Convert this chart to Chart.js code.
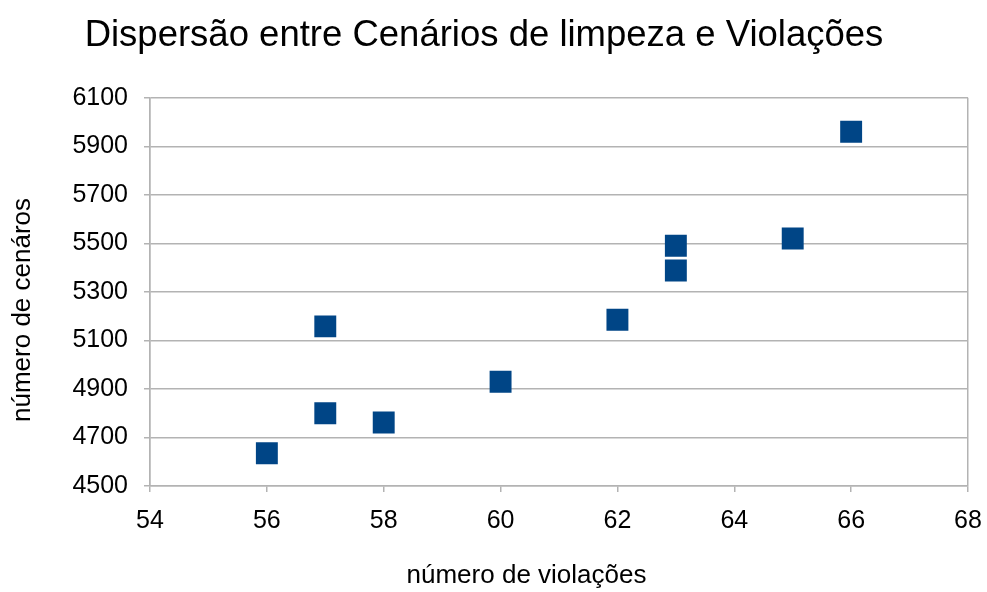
<!DOCTYPE html>
<html>
<head>
<meta charset="utf-8">
<script src="https://cdn.jsdelivr.net/npm/chart.js@4/dist/chart.umd.min.js"></script>
<style>
  html, body { margin: 0; padding: 0; background: #fff; }
  #wrap { width: 987px; height: 592px; }
</style>
</head>
<body>
<div id="wrap"><canvas id="chart"></canvas></div>
<script>
// violações (x) vs cenários (y)
const violacoes = [56, 57, 57, 58, 60, 62, 63, 63, 65, 66];
const cenarios = [4635, 4800, 5158, 4762, 4930, 5185, 5388, 5490, 5520, 5960];
const xTicks = [54, 56, 58, 60, 62, 64, 66, 68];
const yTicks = [4500, 4700, 4900, 5100, 5300, 5500, 5700, 5900, 6100];

const FONT = "'Liberation Sans', Arial, sans-serif";
const GRID = '#b3b3b3';
const NBSP = '\u00a0';

const points = violacoes.map((v, i) => ({ x: v, y: cenarios[i] }));

new Chart(document.getElementById('chart'), {
    type: 'scatter',
    data: {
        datasets: [{
            label: 'cenários',
            data: points,
            pointStyle: 'rect',
            pointRadius: 15.5,
            pointHoverRadius: 15.5,
            backgroundColor: '#004586',
            borderColor: '#004586',
            borderWidth: 0
        }]
    },
    options: {
        responsive: true,
        maintainAspectRatio: false,
        animation: false,
        layout: { padding: { left: 0, right: 19, top: 0, bottom: 0 } },
        plugins: {
            legend: { display: false },
            tooltip: { enabled: false },
            title: {
                display: true,
                text: 'Dispersão entre Cenários de limpeza e Violações',
                color: '#000',
                font: { family: FONT, size: 36.5, weight: 'normal' },
                padding: { top: 14, bottom: 40 }
            }
        },
        scales: {
            x: {
                type: 'linear',
                min: xTicks[0],
                max: xTicks[xTicks.length - 1],
                afterBuildTicks: axis => { axis.ticks = xTicks.map(v => ({ value: v })); },
                afterFit: axis => {
                    axis.height = 106;
                    axis.paddingLeft = 0;
                    axis.paddingRight = 0;
                },
                grid: {
                    color: c => (c.index === 0 || c.index === xTicks.length - 1) ? GRID : 'rgba(0,0,0,0)',
                    tickColor: GRID,
                    tickLength: 6,
                    lineWidth: 1.5
                },
                border: { color: GRID, width: 1.5 },
                ticks: {
                    color: '#000',
                    font: { family: FONT, size: 25 },
                    padding: 14,
                    callback: v => String(v)
                },
                title: {
                    display: true,
                    // trailing spaces shift the label left like the original
                    text: 'número de violações' + NBSP.repeat(9),
                    color: '#000',
                    font: { family: FONT, size: 26 },
                    padding: { top: 0, bottom: 1 }
                }
            },
            y: {
                min: yTicks[0],
                max: yTicks[yTicks.length - 1],
                afterBuildTicks: axis => { axis.ticks = yTicks.map(v => ({ value: v })); },
                afterFit: axis => {
                    axis.width = 150;
                    axis.paddingTop = 0;
                    axis.paddingBottom = 0;
                },
                grid: {
                    color: GRID,
                    tickColor: GRID,
                    tickLength: 6,
                    lineWidth: 1.5
                },
                border: { color: GRID, width: 1.5 },
                ticks: {
                    color: '#000',
                    font: { family: FONT, size: 25 },
                    padding: 16,
                    callback: v => String(v)
                },
                title: {
                    display: true,
                    text: 'número de cenáros' + NBSP.repeat(5),
                    color: '#000',
                    font: { family: FONT, size: 26 },
                    padding: { top: 7, bottom: 6 }
                }
            }
        }
    }
});
</script>
</body>
</html>
